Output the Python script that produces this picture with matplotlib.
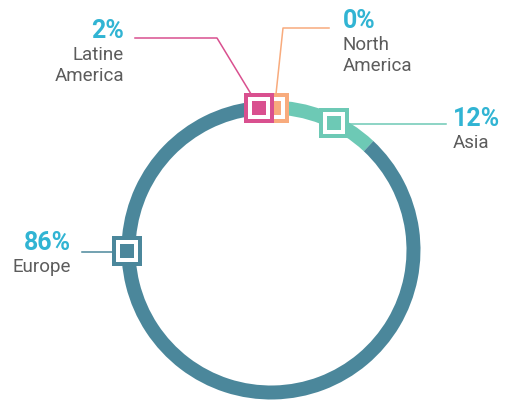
import matplotlib

matplotlib.use("Agg")
import matplotlib.pyplot as plt
from matplotlib.patches import Rectangle

# data
regions = ["Asia", "Europe", "Latine\nAmerica", "North\nAmerica"]
shares = [12, 86, 2, 0]
colors = ["#6dc9b5", "#4b879b", "#d9508f", "#f8ab7d"]

W, H = 506, 401
BLUE = "#31b4d3"
GREY = "#5c5c5c"
FONT = "Roboto"


def py(y):
    """Image-row to axes y (axis runs bottom-up)."""
    return H - y


fig = plt.figure(figsize=(W / 100, H / 100), dpi=100)
ax = fig.add_axes([0, 0, 1, 1])
ax.set_aspect("equal")
ax.axis("off")

# ── ring ──
ax.pie(
    shares, colors=colors, startangle=90, counterclock=False,
    radius=149.5, center=(271, py(250)),
    wedgeprops=dict(width=14, linewidth=0),
)
ax.set_xlim(0, W)
ax.set_ylim(0, H)


def marker(cx, cy, color):
    s, b, g = 30, 4, 4
    x0, y0 = cx - s / 2, py(cy) - s / 2
    ax.add_patch(Rectangle((x0, y0), s, s, facecolor=color, lw=0, zorder=5))
    ax.add_patch(Rectangle((x0 + b, y0 + b), s - 2 * b, s - 2 * b,
                           facecolor="white", lw=0, zorder=5))
    ax.add_patch(Rectangle((x0 + b + g, y0 + b + g), s - 2 * (b + g),
                           s - 2 * (b + g), facecolor=color, lw=0, zorder=5))


# leader lines
ax.plot([135, 217, 251], [py(38), py(38), py(94)], color=colors[2], lw=1.1, zorder=4)
ax.plot([329, 283, 276], [py(28), py(28), py(94)], color=colors[3], lw=1.1, zorder=4)
ax.plot([348, 446], [py(123.5), py(123.5)], color=colors[0], lw=1.1, zorder=4)
ax.plot([82, 112], [py(252), py(252)], color=colors[1], lw=1.1, zorder=4)

marker(274, 108, colors[3])
marker(259, 108, colors[2])
marker(334, 123, colors[0])
marker(127, 251, colors[1])


def label(x, y, pct, name, ha):
    ax.text(x, py(y), f"{pct}%", color=BLUE, fontsize=18, fontweight="bold",
            family=FONT, ha=ha, va="baseline")
    for i, line in enumerate(name.split("\n")):
        ax.text(x, py(y + 22 + 21 * i), line, color=GREY, fontsize=13.5,
                fontweight="normal", family=FONT, ha=ha, va="baseline")


label(124, 38, shares[2], regions[2], "right")
label(343, 28, shares[3], regions[3], "left")
label(453, 126, shares[0], regions[0], "left")
label(71, 250, shares[1], regions[1], "right")

fig.savefig("out.png", dpi=100, facecolor="white")
